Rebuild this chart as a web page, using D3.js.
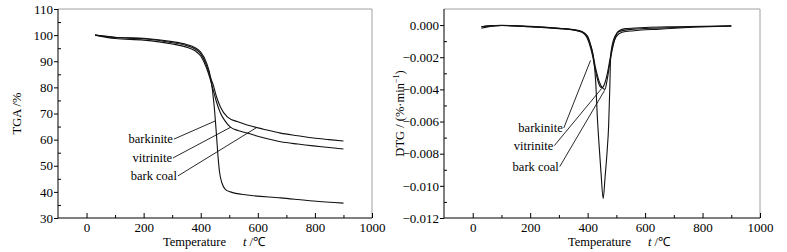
<!DOCTYPE html>
<html>
<head>
<meta charset="utf-8">
<script src="https://cdn.jsdelivr.net/npm/d3@7"></script>
<style>
  body { margin: 0; background: #fff; }
  svg text { font-family: "Liberation Serif", "Times New Roman", serif; fill: #000; }
</style>
</head>
<body>
<div id="chart"></div>
<script>
// TGA curves (temperature in degC, mass %)
const tgaBarkiniteT = [30, 100, 200, 300, 350, 380, 400, 420, 435, 447, 455, 461, 466, 474, 486, 504, 563, 680, 795, 900];
const tgaBarkiniteV = [100, 99.2, 98.8, 97.5, 96.4, 95.2, 93.5, 89.5, 83.5, 73, 62, 53, 47.5, 43.5, 41, 40, 38.8, 37.7, 36.5, 35.7];
const tgaVitriniteT = [30, 100, 200, 300, 350, 380, 400, 420, 435, 445, 455, 469, 485, 504, 530, 563, 620, 680, 740, 795, 850, 900];
const tgaVitriniteV = [100, 98.7, 98.1, 96.6, 95.4, 94, 92, 87.5, 82.5, 78.5, 74.5, 70.2, 67.2, 64.8, 63.5, 62.5, 60.7, 59.2, 58.3, 57.6, 57, 56.4];
const tgaBarkCoalT = [30, 100, 200, 300, 350, 380, 400, 420, 435, 445, 455, 469, 493, 530, 563, 620, 680, 740, 795, 850, 900];
const tgaBarkCoalV = [100, 99.1, 98.6, 97.1, 96, 94.7, 92.8, 88.5, 83.5, 80.5, 76.5, 72.5, 68.7, 66.8, 65.6, 64, 62.5, 61.5, 60.6, 60, 59.5];

// DTG curves (temperature in degC, %/min)
const dtgBarkiniteT = [30, 60, 100, 200, 300, 350, 380, 400, 410, 420, 428, 434, 440, 447, 454, 461, 468, 473, 477, 480, 486, 495, 510, 560, 650, 750, 900];
const dtgBarkiniteV = [-0.0001, -0.00005, -0.00003, -0.0001, -0.0002, -0.0003, -0.00042, -0.0007, -0.0012, -0.002, -0.0035, -0.0058, -0.0075, -0.0093, -0.0108, -0.0094, -0.0078, -0.0063, -0.004, -0.002, -0.0012, -0.0007, -0.0004, -0.00025, -0.00018, -0.00012, -0.00006];
const dtgVitriniteT = [30, 60, 100, 200, 300, 350, 380, 395, 405, 417, 428, 438, 450, 460, 470, 480, 490, 500, 520, 560, 650, 750, 900];
const dtgVitriniteV = [-0.0002, -0.00008, -0.00003, -0.0001, -0.00022, -0.0003, -0.00045, -0.0007, -0.0011, -0.0019, -0.0029, -0.0036, -0.0039, -0.0036, -0.0029, -0.0019, -0.0011, -0.0007, -0.00045, -0.00035, -0.00025, -0.00015, -0.00006];
const dtgBarkCoalT = [30, 60, 100, 200, 300, 350, 380, 395, 405, 417, 428, 440, 452, 460, 468, 476, 486, 496, 506, 530, 600, 700, 900];
const dtgBarkCoalV = [-0.0001, -0.00005, -0.00002, -0.00008, -0.0002, -0.00028, -0.0004, -0.0006, -0.001, -0.0017, -0.0027, -0.0035, -0.0039, -0.004, -0.0034, -0.0025, -0.0015, -0.0008, -0.0004, -0.00022, -0.00015, -0.0001, -0.00005];

const seriesNames = ["barkinite", "vitrinite", "bark coal"];

// axis ticks
const xMajor = [0, 200, 400, 600, 800, 1000];
const xMinor = [100, 300, 500, 700, 900];
const tgaMajor = [30, 40, 50, 60, 70, 80, 90, 100, 110];
const tgaMinor = [35, 45, 55, 65, 75, 85, 95, 105];
const dtgMajor = [-0.012, -0.010, -0.008, -0.006, -0.004, -0.002, 0.000];
const dtgMinor = [-0.011, -0.009, -0.007, -0.005, -0.003, -0.001];

// leader lines: label anchor (t, v) -> curve point (t, v)
const tgaLeaderFrom = [[306, 60.2], [303, 53.0], [320, 46.1]];
const tgaLeaderTo = [[450, 67.1], [506, 64.8], [594, 64.5]];
const dtgLeaderFrom = [[317, -0.0064], [284, -0.0075], [303, -0.0088]];
const dtgLeaderTo = [[410, -0.0022], [449, -0.00394], [459, -0.00406]];

const W = 787, H = 252;
const svg = d3.select("#chart").append("svg")
  .attr("width", W).attr("height", H);
svg.append("rect").attr("width", W).attr("height", H).attr("fill", "#fff");

function zip(ts, vs) { return ts.map((t, i) => [t, vs[i]]); }

function drawPanel(cfg) {
  const x = d3.scaleLinear().domain([-100, 1000]).range([cfg.left, cfg.right]);
  const y = d3.scaleLinear().domain(cfg.yDomain).range([cfg.bottom, cfg.top]);
  const g = svg.append("g");

  // frame: top and right grey, left and bottom black
  g.append("line").attr("x1", cfg.left).attr("x2", cfg.right).attr("y1", cfg.top).attr("y2", cfg.top)
    .attr("stroke", "#a0a0a0").attr("stroke-width", 1);
  g.append("line").attr("x1", cfg.right).attr("x2", cfg.right).attr("y1", cfg.top).attr("y2", cfg.bottom)
    .attr("stroke", "#a0a0a0").attr("stroke-width", 1);

  // x axis
  const xa = g.append("g").attr("transform", `translate(0,${cfg.bottom})`)
    .style("font-size", "13px")
    .call(d3.axisBottom(x).tickValues(xMajor).tickSizeInner(-5).tickSizeOuter(0).tickPadding(5).tickFormat(d3.format("d")));
  xa.select(".domain").remove();
  const xm = g.append("g").attr("transform", `translate(0,${cfg.bottom})`)
    .call(d3.axisBottom(x).tickValues(xMinor).tickSizeInner(-3).tickSizeOuter(0).tickFormat(""));
  xm.select(".domain").remove();

  // y axis
  const ya = g.append("g").attr("transform", `translate(${cfg.left},0)`)
    .style("font-size", "13px")
    .call(d3.axisLeft(y).tickValues(cfg.yMajor).tickSizeInner(4).tickSizeOuter(0).tickPadding(1).tickFormat(cfg.fmt));
  ya.select(".domain").remove();
  const ym = g.append("g").attr("transform", `translate(${cfg.left},0)`)
    .call(d3.axisLeft(y).tickValues(cfg.yMinor).tickSizeInner(-3).tickSizeOuter(0).tickFormat(""));
  ym.select(".domain").remove();
  g.selectAll(".tick text").attr("fill", "#000");

  g.append("line").attr("x1", cfg.left).attr("x2", cfg.right).attr("y1", cfg.bottom).attr("y2", cfg.bottom)
    .attr("stroke", "#000").attr("stroke-width", 1);
  g.append("line").attr("x1", cfg.left).attr("x2", cfg.left).attr("y1", cfg.top).attr("y2", cfg.bottom)
    .attr("stroke", "#000").attr("stroke-width", 1);

  // curves
  const line = d3.line().x(d => x(d[0])).y(d => y(d[1])).curve(d3.curveMonotoneX);
  g.selectAll(".curve").data(cfg.series).join("path")
    .attr("class", "curve")
    .attr("d", d => line(d))
    .attr("fill", "none").attr("stroke", "#111").attr("stroke-width", 1.1);

  // leader lines and labels
  g.selectAll(".leader").data(cfg.leaderFrom).join("line")
    .attr("class", "leader")
    .attr("x1", d => x(d[0])).attr("y1", d => y(d[1]))
    .attr("x2", (d, i) => x(cfg.leaderTo[i][0])).attr("y2", (d, i) => y(cfg.leaderTo[i][1]))
    .attr("stroke", "#111").attr("stroke-width", 0.9);
  g.selectAll(".lab").data(seriesNames).join("text")
    .attr("class", "lab")
    .attr("x", (d, i) => x(cfg.leaderFrom[i][0]) - 1)
    .attr("y", (d, i) => y(cfg.leaderFrom[i][1]) + 4)
    .attr("text-anchor", "end")
    .style("font-size", "12.5px")
    .text(d => d);

  // x title
  const xt = g.append("text")
    .attr("x", cfg.xTitleX).attr("y", cfg.bottom + 28)
    .style("font-size", "12.5px");
  xt.append("tspan").text("Temperature");
  xt.append("tspan").attr("dx", 17).style("font-style", "italic").text("t");
  xt.append("tspan").text(" /\u2103");

  // y title
  const yt = g.append("text")
    .attr("transform", `translate(${cfg.yTitleX},${(cfg.top + cfg.bottom) / 2}) rotate(-90)`)
    .attr("text-anchor", "middle")
    .style("font-size", "12.5px");
  cfg.yTitle(yt);
}

drawPanel({
  left: 58, right: 372, top: 9, bottom: 218,
  yDomain: [30, 110], yMajor: tgaMajor, yMinor: tgaMinor, fmt: d3.format("d"),
  series: [zip(tgaBarkiniteT, tgaBarkiniteV), zip(tgaVitriniteT, tgaVitriniteV), zip(tgaBarkCoalT, tgaBarkCoalV)],
  leaderFrom: tgaLeaderFrom, leaderTo: tgaLeaderTo,
  xTitleX: 163, yTitleX: 21,
  yTitle: t => t.text("TGA /%")
});

drawPanel({
  left: 444, right: 760, top: 9, bottom: 218,
  yDomain: [-0.012, 0.001], yMajor: dtgMajor, yMinor: dtgMinor, fmt: d3.format(".3f"),
  series: [zip(dtgBarkiniteT, dtgBarkiniteV), zip(dtgVitriniteT, dtgVitriniteV), zip(dtgBarkCoalT, dtgBarkCoalV)],
  leaderFrom: dtgLeaderFrom, leaderTo: dtgLeaderTo,
  xTitleX: 568, yTitleX: 404,
  yTitle: t => {
    t.append("tspan").text("DTG / (%\u00b7min");
    t.append("tspan").attr("dy", -5).style("font-size", "8px").text("\u22121");
    t.append("tspan").attr("dy", 5).text(")");
  }
});
</script>
</body>
</html>
